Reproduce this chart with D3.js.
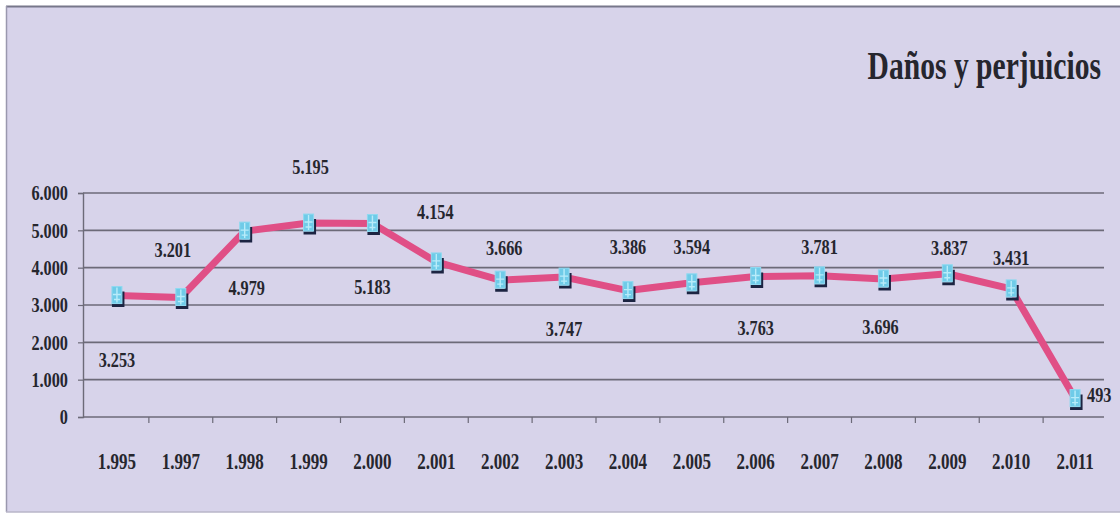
<!DOCTYPE html>
<html>
<head>
<meta charset="utf-8">
<script src="https://cdn.jsdelivr.net/npm/d3@7/dist/d3.min.js"></script>
<style>
  html, body { margin: 0; padding: 0; background: #ffffff; }
  svg { display: block; }
  text { font-family: "Liberation Serif", "Times New Roman", serif; font-weight: bold; fill: #26262e; }
</style>
</head>
<body>
<svg id="chart" width="1120" height="516"></svg>
<script>
// ---- data ----
const years = ["1.995","1.997","1.998","1.999","2.000","2.001","2.002","2.003","2.004","2.005","2.006","2.007","2.008","2.009","2.010","2.011"];
const values = [3253, 3201, 4979, 5195, 5183, 4154, 3666, 3747, 3386, 3594, 3763, 3781, 3696, 3837, 3431, 493];
const valueLabels = ["3.253","3.201","4.979","5.195","5.183","4.154","3.666","3.747","3.386","3.594","3.763","3.781","3.696","3.837","3.431","493"];
const yTicks = [0, 1000, 2000, 3000, 4000, 5000, 6000];
const yTickLabels = ["0","1.000","2.000","3.000","4.000","5.000","6.000"];
const title = "Daños y perjuicios";

// ---- layout (label offsets relative to each point) ----
const labelOffsets = [[0,64],[-8,-48],[2,56],[2,-56],[0,63],[-1,-50],[4,-33],[0,51],[0,-44],[0,-36],[0,51],[0,-29],[-3,48],[2,-26],[0,-31],[12,-4]];

const svg = d3.select("#chart");
const W = 1120, H = 516;
const SX = 0.74; // horizontal squeeze of the serif text

// background panel
svg.append("rect").attr("x", 6).attr("y", 6).attr("width", W - 6).attr("height", 506)
  .attr("fill", "#d7d3ea");
svg.append("line").attr("x1", 6).attr("x2", W).attr("y1", 6.5).attr("y2", 6.5)
  .attr("stroke", "#77778a").attr("stroke-width", 2);
svg.append("line").attr("x1", 6.5).attr("x2", 6.5).attr("y1", 6).attr("y2", 512)
  .attr("stroke", "#9a98ae").attr("stroke-width", 1.5);
svg.append("line").attr("x1", 6).attr("x2", W).attr("y1", 512).attr("y2", 512)
  .attr("stroke", "#b8b6c8").attr("stroke-width", 1.5);

const x = d3.scaleBand().domain(years).range([85, 1107]);
const y = d3.scaleLinear().domain([0, 6000]).range([417, 193]);

function squeezed(sel, px, py, anchor) {
  return sel.attr("transform", `translate(${px},${py}) scale(${SX},1)`)
    .attr("text-anchor", anchor).attr("dominant-baseline", "central");
}

// gridlines
svg.append("g").selectAll("line").data(yTicks).join("line")
  .attr("x1", 83).attr("x2", 1104)
  .attr("y1", d => y(d)).attr("y2", d => y(d))
  .attr("stroke", "#6c6a78").attr("stroke-width", 1.6);

// y axis
const yAxis = svg.append("g").attr("transform", "translate(83,0)")
  .call(d3.axisLeft(y).tickValues(yTicks).tickSize(5).tickFormat(""));
yAxis.select(".domain").attr("stroke", "#6c6a78").attr("stroke-width", 1.4);
yAxis.selectAll(".tick line").attr("stroke", "#6c6a78").attr("stroke-width", 1.2);
svg.append("g").selectAll("text").data(yTicks).join("text")
  .each(function(d) { squeezed(d3.select(this), 68, y(d), "end"); })
  .attr("font-size", 22)
  .text((d, i) => yTickLabels[i]);

// x axis tick marks between categories
const boundaries = years.map(d => x(d)).concat([x.range()[1]]);
svg.append("g").selectAll("line").data(boundaries.slice(1, -1)).join("line")
  .attr("x1", d => d).attr("x2", d => d).attr("y1", 417).attr("y2", 423)
  .attr("stroke", "#6c6a78").attr("stroke-width", 1.2);
svg.append("g").selectAll("text").data(years).join("text")
  .each(function(d) { squeezed(d3.select(this), x(d) + x.bandwidth() / 2, 461, "middle"); })
  .attr("font-size", 23)
  .text(d => d);

// line
const cx = i => x(years[i]) + x.bandwidth() / 2;
const line = d3.line().x((d, i) => cx(i)).y(d => y(d)).curve(d3.curveLinear);
svg.append("path").datum(values)
  .attr("d", line).attr("fill", "none")
  .attr("stroke", "#e04f86").attr("stroke-width", 7)
  .attr("stroke-linejoin", "round").attr("stroke-linecap", "round");

// markers
const mk = svg.append("g").selectAll("g").data(values).join("g")
  .attr("transform", (d, i) => `translate(${cx(i)},${y(d)})`);
mk.append("path").attr("d", "M6,-4 V10 H-5").attr("fill", "none")
  .attr("stroke", "#1c2442").attr("stroke-width", 3);
mk.append("rect").attr("x", -5).attr("y", -9).attr("width", 10).attr("height", 17)
  .attr("fill", "#6fcbe8").attr("stroke", "#8fd9f0").attr("stroke-width", 1);
mk.append("path").attr("d", "M0,-8 V7 M-4,-1 H4 M-3,4 H3").attr("stroke", "#b8ecfa").attr("stroke-width", 1.4);

// value labels
svg.append("g").selectAll("text").data(values).join("text")
  .each(function(d, i) {
    squeezed(d3.select(this), cx(i) + labelOffsets[i][0], y(d) + labelOffsets[i][1], i === values.length - 1 ? "start" : "middle");
  })
  .attr("font-size", 22)
  .text((d, i) => valueLabels[i]);

// title
squeezed(svg.append("text"), 1101, 66, "end")
  .attr("font-size", 40).attr("fill", "#1e1e24")
  .text(title);
</script>
</body>
</html>
